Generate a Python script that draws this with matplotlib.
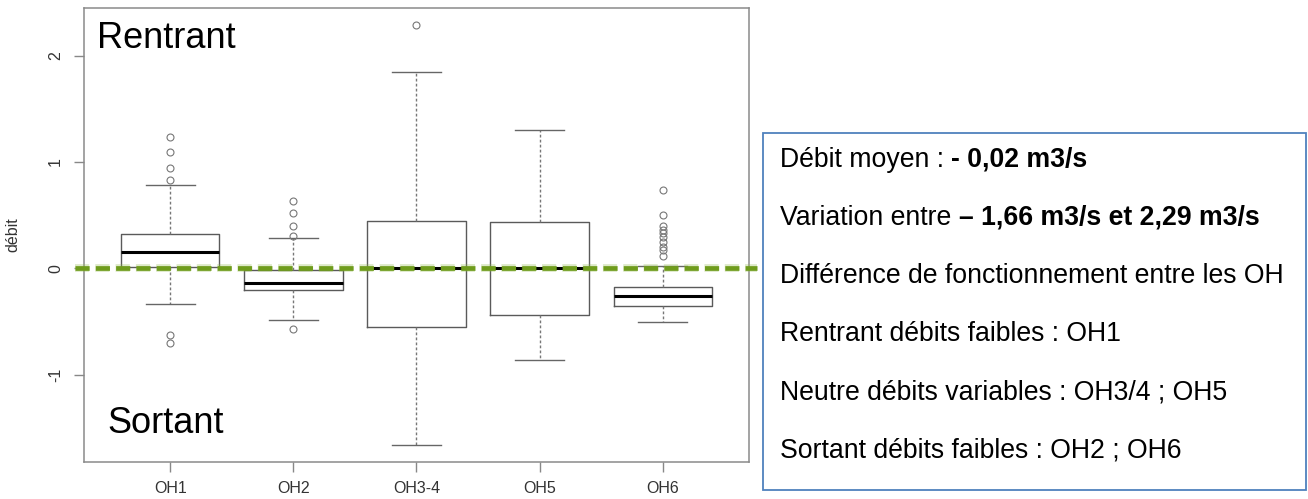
import matplotlib
matplotlib.use("Agg")
import matplotlib.pyplot as plt
from matplotlib.patches import Rectangle

plt.rcParams['font.family'] = ['Liberation Sans', 'DejaVu Sans']

# flow summary per hydraulic structure (m3/s)
stations = ["OH1", "OH2", "OH3-4", "OH5", "OH6"]
q1 = [0.01, -0.20, -0.55, -0.44, -0.355]
medians = [0.15, -0.135, 0.0, 0.0, -0.263]
q3 = [0.32, -0.015, 0.448, 0.438, -0.173]
whisk_lo = [-0.34, -0.49, -1.66, -0.86, -0.505]
whisk_hi = [0.78, 0.285, 1.85, 1.30, 0.02]
outliers = [
    [1.235, 1.09, 0.94, 0.835, -0.63, -0.705],
    [0.635, 0.525, 0.40, 0.305, -0.575],
    [2.29],
    [],
    [0.74, 0.505, 0.395, 0.365, 0.33, 0.29, 0.25, 0.20, 0.17, 0.115],
]
y_ticks = [-1, 0, 1, 2]

notes = [
    ("Débit moyen : ", "- 0,02 m3/s"),
    ("Variation entre ", "– 1,66 m3/s et 2,29 m3/s"),
    ("Différence de fonctionnement entre les OH", ""),
    ("Rentrant débits faibles : OH1", ""),
    ("Neutre débits variables : OH3/4 ; OH5", ""),
    ("Sortant débits faibles : OH2 ; OH6", ""),
]

W, H, DPI = 1308, 499, 100
fig = plt.figure(figsize=(W / DPI, H / DPI), dpi=DPI)
ax = fig.add_axes([84 / W, 1 - 462 / H, (749 - 84) / W, (462 - 8) / H])

stats = []
for i, name in enumerate(stations):
    stats.append(dict(label=name, med=medians[i], q1=q1[i], q3=q3[i],
                      whislo=whisk_lo[i], whishi=whisk_hi[i], fliers=outliers[i]))

positions = list(range(1, len(stations) + 1))
ax.bxp(stats, positions=positions, widths=0.8,
       boxprops=dict(color='#5a5a5a', lw=1.0),
       whiskerprops=dict(color='#777777', lw=1.0, linestyle=(0, (2.0, 1.6))),
       capprops=dict(color='#666666', lw=1.0),
       medianprops=dict(color='black', lw=2.2),
       flierprops=dict(marker='o', markerfacecolor='none', markeredgecolor='#777777',
                       markersize=5, markeredgewidth=0.8))

# zero-flow reference line, spilling slightly past the frame
ytr = ax.get_yaxis_transform()
line_w, dash, gap = 3.4, 3.0, 1.3
glow_w = 5.6
ax.plot([-0.014, 1.012], [0, 0], transform=ytr, clip_on=False, color='#8fb84a',
        lw=glow_w, alpha=0.3, zorder=5,
        dashes=(dash * line_w / glow_w, gap * line_w / glow_w))
ax.plot([-0.014, 1.012], [0, 0], transform=ytr, clip_on=False, color='#6f9c1c',
        lw=line_w, dashes=(dash, gap), zorder=6)

ax.set_xlim(0.3, 5.7)
ax.set_ylim(-1.822, 2.449)
ax.set_xticks(positions)
ax.set_xticklabels(stations)
ax.set_yticks(y_ticks)
ax.set_yticklabels([str(v) for v in y_ticks], rotation=90, va='center')
ax.tick_params(colors='#888888', labelcolor='#333333', labelsize=11.5,
               length=7, width=1.0)
ax.tick_params(axis='x', pad=7)
ax.tick_params(axis='y', pad=8)
for sp in ax.spines.values():
    sp.set_color('#8a8a8a')
    sp.set_linewidth(1.1)

ax.set_ylabel("débit", fontsize=11.5, color='#333333')
ax.yaxis.set_label_coords(-0.096, 0.5)

ax.text(0.0195, 0.912, "Rentrant", transform=ax.transAxes, fontsize=26,
        va='baseline', ha='left', color='black')
ax.text(0.0346, 0.064, "Sortant", transform=ax.transAxes, fontsize=26,
        va='baseline', ha='left', color='black')

# summary box on the right
fig.patches.append(Rectangle((763 / W, 1 - 490 / H), (1306 - 763) / W, (490 - 133) / H,
                             transform=fig.transFigure, fill=False,
                             edgecolor='#4f81bd', lw=1.3))

fig.canvas.draw()
renderer = fig.canvas.get_renderer()
fs = 19.2
space_px = 0.278 * fs * DPI / 72
for k, (plain, bold) in enumerate(notes):
    y = 1 - (166.7 + 58.1 * k) / H
    t = fig.text(780 / W, y, plain.rstrip(), fontsize=fs, va='baseline', ha='left')
    if bold:
        bb = t.get_window_extent(renderer)
        fig.text((bb.x1 + space_px) / W, y, bold, fontsize=fs, fontweight='bold',
                 va='baseline', ha='left')

fig.savefig("out.png", dpi=DPI)
